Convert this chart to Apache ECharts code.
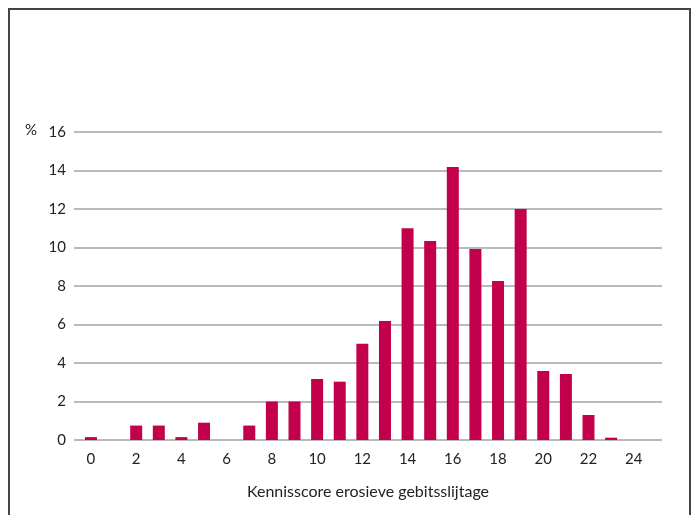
<!DOCTYPE html>
<html>
<head>
<meta charset="utf-8">
<script src="https://cdn.jsdelivr.net/npm/echarts@6/dist/echarts.min.js"></script>
<style>
  html, body { margin: 0; padding: 0; background: #fff; }
  #chart { width: 694px; height: 515px; }
</style>
</head>
<body>
<div id="chart"></div>
<script>
// scores 0..23, percentage of respondents per score
var scores = [0, 1, 2, 3, 4, 5, 6, 7, 8, 9, 10, 11, 12, 13, 14, 15, 16, 17, 18, 19, 20, 21, 22, 23];
var percent = [0.15, 0, 0.75, 0.75, 0.15, 0.9, 0, 0.75, 2.0, 2.0, 3.17, 3.03, 5.0, 6.18, 11.0, 10.34, 14.18, 9.92, 8.26, 12.0, 3.58, 3.43, 1.3, 0.12];
var xTicks = [0, 2, 4, 6, 8, 10, 12, 14, 16, 18, 20, 22, 24];
var yTicks = [0, 2, 4, 6, 8, 10, 12, 14, 16];

var font = 'Lato, "Open Sans", sans-serif';
var myChart = echarts.init(document.getElementById('chart'));

var option = {
    animation: false,
    backgroundColor: '#fff',
    textStyle: { fontFamily: font },
    grid: { left: 74, right: 32, top: 132, bottom: 75 },
    xAxis: {
        type: 'value',
        min: -0.75,
        max: 25.25,
        name: 'Kennisscore erosieve gebitsslijtage',
        nameLocation: 'middle',
        nameGap: 44,
        nameTextStyle: { color: '#222', fontSize: 16, fontFamily: font },
        axisLine: { show: false },
        axisTick: { show: false },
        splitLine: { show: false },
        axisLabel: {
            customValues: xTicks,
            color: '#222',
            fontSize: 15,
            margin: 12,
            fontFamily: font
        }
    },
    yAxis: {
        type: 'value',
        min: 0,
        max: 16,
        interval: 2,
        axisLine: { show: false },
        axisTick: { show: false },
        axisLabel: {
            customValues: yTicks,
            color: '#222',
            fontSize: 15,
            margin: 8,
            fontFamily: font
        },
        splitLine: { lineStyle: { color: '#a3a3a3', width: 1.5 } }
    },
    graphic: [
        {
            type: 'polyline',
            shape: { points: [[9, 520], [9, 9], [690, 9], [690, 520]] },
            style: { stroke: '#444', lineWidth: 2, fill: null }
        },
        {
            type: 'text',
            left: 25,
            top: 123,
            style: { text: '%', fill: '#222', font: '15px ' + font }
        }
    ],
    series: [
        {
            type: 'bar',
            barWidth: 12,
            itemStyle: { color: '#c2004b' },
            data: scores.map(function (s, i) { return [s, percent[i]]; })
        }
    ]
};
myChart.setOption(option);
</script>
</body>
</html>
